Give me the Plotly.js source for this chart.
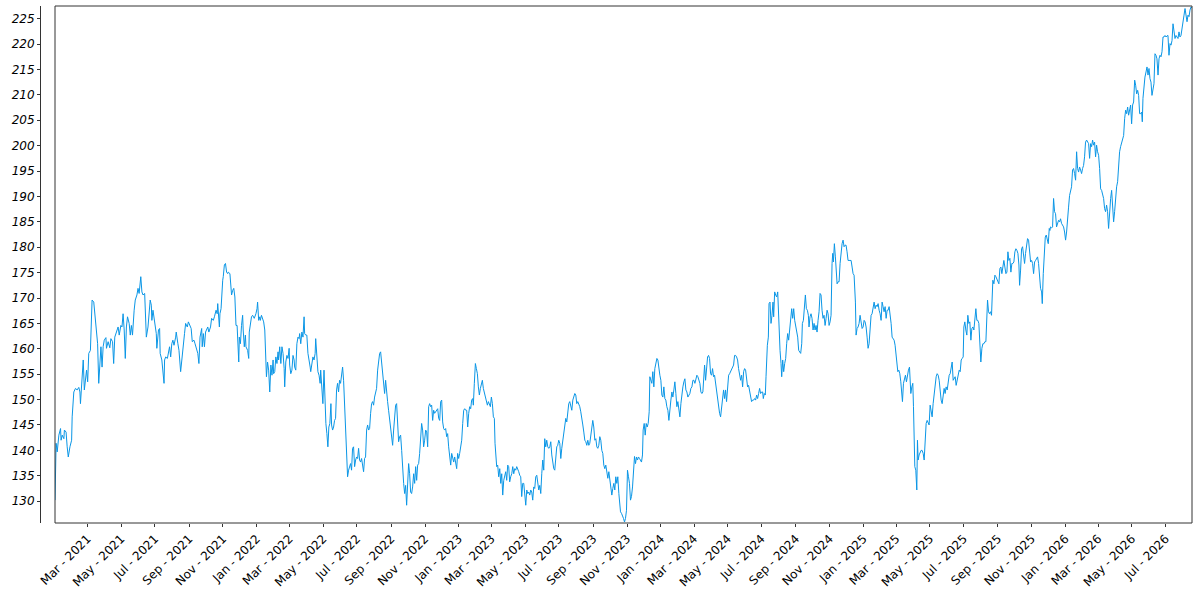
<!DOCTYPE html>
<html>
<head>
<meta charset="utf-8">
<script src="https://cdn.plot.ly/plotly-3.0.1.min.js"></script>
<style>
html,body{margin:0;padding:0;background:#fff;}
#chart{width:1200px;height:600px;}
</style>
</head>
<body>
<div id="chart"></div>
<script>
// ---- data ----
const startDate = '2021-01-01T12:00:00Z';           // day 0
const dayOffsets = [
// 2021 H1
0,2,4,7,10,11,13,16,17,20, 22,24,27,30,31,33,34,37,40,43, 45,46,48,49,51,53,55,57,59,61,
64,66,67,70,72,74,75,77,79,81, 83,85,87,89,92,93,96,99,101,104, 106,108,111,114,116,119,121,123,125,127,
129,131,134,136,138,140,143,145,148,150, 152,154,155,157,159,162,163,165,168,170, 172,174,175,177,179,181,183,184,187,189,
190,193,195,197,198,200,203,205,207,209, 211,213,215,218,219,222,224,227,229,231, 234,236,239,241,243,246,248,251,253,256,
258,260,
// late 2021 - spring 2022
262,265,266,268,270,272,274,276,278,281, 283,286,288,291,293,294,297,298,300,301, 303,304,306,308,310,312,313,316,318,319,
321,323,325,327,329,330,332,333,335,337, 339,340,342,344,345,348,350,351,353,355, 357,359,360,363,365,366,368,370,371,373,
375,377,379,380,382,384,386,388,390,392, 394,395,397,399,401,403,404,406,408,410, 412,414,415,417,419,421,423,424,426,428,
430,432,433,435,437,439,441,442,444,446, 448,450,451,453,455,457,459,461,462,464, 466,468,470,471,473,475,477,479,480,482,
484,486,488,
// 2022 H2 - early 2023
489.4,491.2,493,494.8,496.6,498.5,499.7,501.5,503.3,505.1, 506.9,508.7,510.5,512.3,514.1,515.9,517.7,519.6,521.4,523.2,
525,526.8,528.6,530.4,532.2,534,535.8,537.6,539.4,541.3, 543.1,544.9,546.7,548.5,550.3,552.1,553.9,555.7,557.5,559.3,
561.1,563,564.8,566.6,568.4,570.2,572,573.8,575.6,577.4, 579.2,581,582.9,584.7,586.5,588.3,590.1,591.9,593.7,595.5,
597.3,599.1,600.9,602.7,604.5,606.4,608.2,610,611.8,613.6, 615.4,617.2,619,620.8,622.6,624.4,626.3,628.1,629.9,631.7,
633.5,635.3,637.1,638.9,640.7,642.5,644.3,646.1,648,649.8, 651.6,653.4,655.2,657,658.8,660.6,662.4,664.2,666,667.8,
669.7,671.5,673.3,675.1,676.9,678.7,680.5,682.3,684.1,685.9, 687.7,689.5,691.4,693.2,695,696.8,698.6,700.4,702.2,704,
705.8,707.6,709.4,711.2,713.1,714.9,716.7,718.5,720.3,722.1, 723.9,725.7,727.5,729.3,731.1,733,734.8,736.6,738.4,740.2,
742,743.8,745.6,747.4,749.2,751,752.8,754.6,
// 2023
755.8,757.6,759.5,761.3,763.1,764.9,766.7,768.5,770.3,772.1, 773.9,775.7,777.5,779.3,781.2,783,784.8,786.6,788.4,790.2,
792,793.8,795,796.2,798,799.8,801.6,803.5,805.3,807.1, 808.9,810.7,812.5,814.3,816.1,817.9,819.7,821.5,823.3,825.2,
827,828.8,830.6,832.4,834.2,836,837.8,839.6,841.4,843.2, 845,846.9,848.7,850.5,852.3,854.1,855.9,857.7,859.5,861.3,
863.1,864.9,866.7,868.6,870.4,872.2,874,875.8,877.6,879.4, 881.2,883,884.8,886.6,888.4,890.3,892.1,893.9,895.7,897.5,
899.3,901.1,902.9,904.7,906.5,908.3,910.1,912,913.8,915.6, 917.4,919.2,921,922.8,924.6,926.4,928.2,930,931.9,933.7,
935.5,937.3,939.1,940.9,942.7,944.5,946.3,948.1,949.9,951.7, 953.6,955.4,957.2,959,960.8,962.6,964.4,966.2,968,969.8,
971.6,973.4,975.3,977.1,978.9,980.7,982.5,984.3,986.1,987.9, 989.7,991.5,993.3,995.1,997,998.8,1000.6,1002.4,1004.2,1006,
1007.8,1009.6,1011.4,1013.2,1015,1016.8,1018.7,1019.9,
// late 2023 - mid 2024
1021.7,1023.5,1025.3,1027.1,1028.9,1030.7,1032.5,1034.3,1036.1,1037.9, 1039.7,1041.5,1043.4,1045.2,1047,1048.8,1050.6,1052.4,1054.2,1056,
1057.8,1059.6,1061.4,1062.6,1064.5,1066.3,1068.1,1069.9,1071.7,1073.5, 1074.7,1076.5,1078.3,1080.1,1081.9,1083.7,1085.5,1087.4,1089.2,1091,
1092.8,1094.6,1096.4,1098.2,1100,1101.8,1103.6,1105.4,1107.3,1109.1, 1110.9,1112.7,1114.5,1116.3,1118.1,1119.9,1121.7,1123.5,1125.3,1127.1,
1129,1130.8,1132.6,1134.4,1136.2,1138,1139.8,1141.6,1143.4,1145.2, 1147,1148.8,1150.7,1152.5,1154.3,1156.1,1157.9,1159.7,1161.5,1163.3,
1165.1,1166.9,1168.7,1170.5,1172.3,1173.6,1175.4,1177.2,1179,1180.8, 1182.6,1184.4,1186.2,1188,1189.8,1191.6,1193.4,1195.3,1197.1,1198.9,
1200.7,1202.5,1204.3,1206.1,1207.9,1209.7,1211.5,1213.3,1215.1,1217, 1218.8,1220.6,1222.4,1224.2,1226,1227.8,1229.6,1231.4,1233.2,1235,
1236.8,1238.7,1240.5,1242.3,1244.1,1245.9,1247.7,1249.5,1251.3,1253.1, 1254.9,1256.7,1258.5,1260.4,1262.2,1264,1265.8,1267.6,1269.4,1271.2,
1273,1274.8,1276.6,
// mid 2024 - spring 2025
1278.5,1279.7,1281.5,1283.3,1284.6,1285.8,1287,1288.8,1290,1291.8, 1293.6,1295.4,1297.2,1298.4,1300.2,1302,1303.8,1305.7,1306.9,1308.1,
1309.9,1311.7,1312.9,1314.7,1316.5,1318.3,1320.1,1321.9,1323.7,1325.5, 1327.4,1329.2,1331,1332.8,1334.6,1336.4,1338.2,1340,1341.8,1343.6,
1345.4,1347.2,1349.1,1350.3,1352.1,1353.9,1355.7,1357.5,1359.3,1361.1, 1362.3,1364.1,1365.9,1367.7,1369.6,1371.4,1373.2,1375,1376.8,1378.6,
1380.4,1382.2,1384,1385.8,1387.6,1389.4,1391.3,1393.1,1394.9,1396.7, 1398.5,1400.3,1402.1,1403.9,1405.1,1406.3,1408.1,1409.9,1411.7,1413,
1414.8,1416.6,1418.4,1420.2,1422,1423.8,1425.6,1427.4,1429.2,1431, 1432.8,1434.6,1436.5,1438.3,1440.1,1441.9,1443.7,1444.9,1446.1,1447.3,
1449.1,1450.9,1452.7,1454.5,1456.4,1458.2,1460,1461.8,1463.6,1465.4, 1467.2,1469,1470.8,1472.6,1474.4,1476.2,1478.1,1479.9,1481.7,1483.5,
1485.3,1487.1,1488.9,1490.7,1492.5,1494.3,1496.1,1497.9,1499.8,1501.6, 1503.4,1505.2,1507,1508.8,1510.6,1512.4,1514.2,1516,1517.8,1519.6,
1521.5,1522.7,1524.5,1526.3,1528.1,1529.9,1531.1,1532.9,1534.7,1536.5, 1538.3,1540.1,1541.9,1543.8,
// spring 2025 - end 2025
1544.3,1546.2,1548,1549.8,1551,1552.2,1553.4,1555.2,1557,1558.2, 1559.4,1561.2,1563,1564.8,1566.6,1568.5,1570.3,1572.1,1573.9,1575.7,
1577.5,1579.3,1581.1,1582.9,1584.7,1586.5,1588.3,1590.2,1592,1593.8, 1595.6,1597.4,1599.2,1601,1602.8,1604.6,1606.4,1608.2,1610,1611.9,
1613.7,1615.5,1617.3,1619.1,1620.9,1622.7,1624.5,1626.3,1628.1,1629.9, 1631.7,1633.6,1635.4,1637.2,1639,1640.8,1642,1643.8,1645.6,1647.4,
1649.2,1651,1652.8,1654.7,1656.5,1658.3,1660.1,1661.9,1663.7,1665.5, 1667.3,1669.1,1670.9,1672.7,1674.6,1676.4,1678.2,1680,1681.8,1683.6,
1684.8,1686.6,1688.4,1690.2,1692,1693.2,1694.4,1696.3,1698.1,1699.9, 1701.7,1703.5,1705.3,1707.1,1708.9,1710.7,1712.5,1714.3,1716.1,1718,
1719.8,1721.6,1723.4,1725.2,1727,1728.8,1730.6,1732.4,1734.2,1736, 1737.8,1739.7,1741.5,1742.7,1744.5,1746.3,1748.1,1749.9,1751.7,1753.5,
1755.3,1757.1,1758.9,1760.7,1762.6,1764.4,1766.2,1768,1769.8,1771.6, 1773.4,1775.2,1777,1778.8,1780.6,1782.5,1783.7,1785.5,1787.3,1789.1,
1790.9,1792.7,1794.5,1796.3,1797.5,
// 2026
1798.6,1800.5,1802.3,1804.1,1805.9,1807.7,1809.5,1811.3,1813.1,1814.9, 1816.7,1818.5,1820.3,1822.2,1824,1825.8,1827.6,1829.4,1831.2,1833,
1834.8,1836.6,1838.4,1840.2,1842.1,1843.9,1845.7,1847.5,1849.3,1851.1, 1852.9,1854.7,1856.5,1858.3,1860.1,1861.9,1863.8,1865.6,1867.4,1869.2,
1871,1872.8,1874.6,1876.4,1878.2,1880,1881.8,1883.6,1885.5,1887.3, 1889.1,1890.9,1892.7,1894.5,1896.3,1898.1,1899.9,1901.7,1903.5,1905.3,
1907.2,1909,1910.8,1912.6,1914.4,1916.2,1918,1919.8,1921.6,1923.4, 1925.2,1927,1928.9,1930.7,1932.5,1934.3,1936.1,1937.9,1939.7,1941.5,
1943.3,1945.1,1946.9,1948.7,1950.6,1952.4,1954.2,1956,1957.8,1959.6, 1961.4,1963.2,1964.4,1965.6,1967.4,1969.2,1971.1,1972.9,1974.7,1976.5,
1978.3,1980.1,1981.9,1983.7,1985.5,1987.3,1989.1,1990.9,1992.8,1994.6, 1996.4,1998.2,2000,2001.8,2003.6,2005.4,2007.2,2009,2010.8,2012.6,
2014.5,2016.3,2018.1,2019.9,2021.7,2023.5,2025.3,2027.1,2028.9,2030.7, 2032.5,2034.3,2036.2,2038,2039.8,2041.6,2043.4,2045.2,2047,2048.8,
2050.6,2052.4,2054.2
];
const closeValues = [
// 2021 H1
130.2,141.4,139.7,143.0,144.3,142.0,143.0,142.3,144.0,143.6, 140.7,138.7,140.7,142.0,146.6,149.2,151.5,152.2,151.9,152.4, 151.5,149.2,152.8,153.8,157.8,151.9,154.8,155.8,153.5,159.1,
159.7,165.6,169.6,169.2,166.9,164.3,164.3,161.0,153.2,157.8, 160.4,156.4,160.4,161.7,162.2,160.1,161.4,160.2,162.0,161.4, 157.1,162.3,163.3,164.3,162.7,164.6,164.3,166.9,163.7,158.1,
164.3,166.3,165.0,162.7,164.6,162.7,167.6,169.6,170.6,171.9, 170.9,172.5,174.2,171.2,170.6,170.9,168.3,162.3,164.3,166.9, 169.6,168.6,165.6,167.6,166.0,164.6,163.0,160.1,163.7,164.0,
159.1,157.8,155.8,153.2,157.8,158.4,158.1,159.7,160.4,158.4, 161.0,161.7,160.7,162.3,163.3,161.0,159.7,155.5,158.1,159.7, 163.0,165.0,164.3,165.3,164.6,164.0,161.4,161.7,161.0,159.7,
159.1,157.1,
// late 2021 - spring 2022
162.3,164.0,160.4,163.0,160.4,163.3,163.7,164.3,163.3,164.3, 166.0,165.6,166.3,167.6,166.9,168.9,164.3,166.9,167.9,171.2, 173.5,174.2,176.5,176.8,175.1,174.8,175.1,174.8,172.8,170.6,
171.5,171.9,170.2,164.6,164.6,162.0,157.4,162.3,161.0,164.6, 166.6,163.7,160.4,162.7,160.4,159.7,158.1,163.3,165.3,166.3, 166.6,166.3,166.0,166.9,167.9,169.2,165.6,166.3,165.6,166.6,
166.0,165.3,163.7,161.0,154.5,157.4,155.8,151.5,156.8,154.8, 157.8,155.1,155.5,158.4,157.1,159.4,157.8,160.4,157.1,160.4, 159.1,156.1,152.5,157.4,158.7,158.1,160.1,156.8,155.1,155.8,
158.7,157.8,156.4,155.8,161.0,162.3,162.0,163.0,161.0,163.3, 162.3,166.3,163.0,162.7,162.7,159.1,157.1,156.4,155.5,157.1, 158.4,157.8,159.1,162.0,158.1,155.5,154.8,153.2,155.8,152.2,
149.2,155.8,148.6,
// 2022 H2 - early 2023
145.3,143.3,140.7,144.6,145.3,149.2,145.0,144.0,144.6,145.9, 146.3,151.9,153.2,151.5,153.8,153.2,155.1,156.4,153.8,149.2,
144.0,140.0,134.8,136.1,136.8,137.4,136.1,140.4,140.7,136.8, 138.1,138.7,138.4,140.4,138.1,137.7,138.4,137.4,135.8,138.4,
138.7,144.0,145.0,144.0,144.3,147.3,149.2,149.6,148.9,150.5, 151.2,152.2,155.8,157.8,159.1,159.4,157.1,154.5,152.2,151.2,
153.8,150.5,149.6,147.9,145.9,144.0,142.0,141.0,144.0,147.3, 148.9,149.2,144.0,141.7,142.7,143.0,140.0,136.1,133.5,131.5,
133.1,129.2,134.1,137.4,135.4,131.8,131.5,132.8,135.4,133.5, 136.8,134.1,137.1,137.4,139.4,142.0,145.3,144.0,140.7,142.0,
144.0,143.6,140.7,148.6,149.2,148.6,148.9,145.9,147.9,147.3, 147.6,147.9,148.2,146.3,145.9,149.6,149.9,145.6,144.3,144.0,
144.3,142.7,143.3,140.7,138.1,137.1,139.4,138.4,137.7,138.7, 137.7,136.4,139.4,138.4,139.4,140.7,142.0,145.3,147.9,148.2,
147.9,147.9,144.6,147.3,148.6,148.2,149.9,150.2,
// 2023
148.9,153.2,157.1,156.1,155.1,152.5,150.9,152.2,152.8,153.8, 152.2,151.2,150.5,149.2,148.9,149.6,148.9,148.6,150.5,149.2,
146.6,146.3,141.4,138.1,136.8,137.1,134.8,136.4,133.5,135.4, 131.2,134.1,134.8,135.8,134.1,137.1,136.8,133.8,134.8,135.4,
136.8,135.4,136.4,136.1,136.8,136.4,135.8,135.1,134.8,130.9, 133.5,133.5,130.9,129.2,132.2,131.5,131.8,131.2,132.2,131.8,
130.2,132.8,132.5,134.8,135.1,132.8,132.2,133.1,131.5,135.4, 138.1,136.1,142.3,140.7,142.0,140.7,140.4,140.7,141.7,139.1,
137.7,136.4,136.1,138.7,140.7,141.0,142.0,141.4,138.4,140.4, 142.0,144.0,145.0,146.3,145.6,148.2,149.2,149.6,148.6,147.9,
149.9,150.5,151.2,150.9,149.2,149.6,149.2,148.6,147.6,146.6, 145.0,143.6,142.0,141.7,141.0,142.0,141.0,141.4,142.7,144.3,
145.9,144.6,142.0,142.3,140.7,140.4,141.0,142.7,142.0,140.0, 139.4,137.1,136.4,137.1,135.8,134.5,135.8,134.1,132.8,131.2,
132.5,133.5,132.2,134.8,133.5,134.8,131.5,128.9,
// late 2023 - mid 2024
127.9,127.6,127.2,126.6,125.9,126.6,128.2,136.1,134.8,133.5, 130.2,130.9,132.8,136.8,138.8,137.4,138.7,138.1,138.7,138.4,
138.1,137.7,139.1,144.0,145.3,143.0,145.3,144.6,145.3,147.6, 154.5,153.8,153.2,155.5,152.5,156.1,157.1,158.1,157.8,155.5,
154.8,153.8,150.9,150.5,152.5,150.2,149.9,148.6,147.9,145.9, 148.6,149.9,151.5,150.5,151.9,153.5,151.2,148.6,149.6,147.6,
146.6,149.2,151.2,152.5,153.5,154.1,151.9,151.5,150.5,150.9, 151.2,152.2,152.5,153.8,153.8,153.2,154.5,154.8,154.5,153.8,
153.2,151.5,151.2,151.5,155.8,156.8,153.8,156.4,158.4,158.7, 158.1,155.1,154.8,156.1,154.5,154.8,153.2,151.5,150.2,149.2,
147.3,146.6,148.6,150.9,151.9,150.2,151.9,149.6,152.5,154.8, 155.1,155.5,155.8,156.4,156.8,158.7,158.7,158.4,157.8,156.1,
155.1,153.8,154.8,152.5,155.5,156.1,155.8,153.5,152.5,152.8, 151.9,150.5,149.6,149.9,149.9,150.2,149.9,150.9,150.2,151.2,
152.2,151.2,151.5,
// mid 2024 - spring 2025
151.5,150.2,151.2,150.9,154.5,158.4,160.7,162.3,168.9,169.2, 165.0,166.6,169.2,166.3,171.2,170.6,170.2,171.2,166.9,162.3,
159.7,157.1,154.5,157.8,155.5,157.1,158.1,161.0,163.0,161.7, 163.7,166.6,167.9,166.0,167.9,165.6,164.3,163.7,162.3,159.7,
159.4,159.1,161.0,165.0,165.6,167.6,170.6,167.9,167.6,166.6, 164.3,166.3,166.9,166.0,163.7,165.0,163.7,164.6,163.3,165.6,
167.3,170.9,170.6,167.6,166.0,166.6,164.6,166.0,167.6,166.9, 164.6,165.3,166.6,176.8,178.8,177.1,180.7,178.1,175.1,172.8,
173.2,173.2,176.8,179.4,180.7,181.4,180.1,180.4,180.4,179.1, 177.4,177.4,177.4,177.4,176.1,174.8,174.5,172.8,169.2,162.7,
164.0,164.3,165.0,166.6,164.6,164.0,164.3,165.6,165.3,164.3, 162.3,160.1,161.0,164.6,166.6,166.9,168.3,169.2,167.9,168.6,
168.3,168.9,167.6,166.9,165.6,169.2,168.3,167.3,168.3,166.0, 167.6,167.6,168.3,166.9,165.0,162.3,162.0,161.7,160.7,159.1,
157.1,155.5,155.8,155.1,153.5,151.2,149.6,153.2,153.8,154.8, 153.5,155.1,155.8,156.4,
// spring 2025 - end 2025
154.5,151.2,152.5,153.2,148.6,142.7,136.8,136.1,132.2,142.0, 138.1,139.1,139.7,140.0,140.0,139.4,138.1,142.0,145.3,145.9,
145.3,145.0,148.9,147.9,146.6,149.2,151.2,153.2,154.5,155.1, 154.8,153.8,151.2,149.9,149.2,150.5,152.2,151.2,152.5,151.9,
153.2,154.8,155.1,156.4,157.4,153.8,154.1,154.5,152.8,153.8, 154.8,155.8,155.5,157.8,158.1,158.4,164.3,165.3,163.7,162.7,
166.6,165.0,165.3,161.7,164.0,164.3,163.7,165.6,167.9,165.6, 165.6,165.0,161.7,157.4,160.1,161.0,161.0,161.4,161.4,166.0,
169.6,167.3,166.9,167.3,166.6,170.2,173.5,172.8,174.5,174.2, 173.8,173.5,172.8,175.8,176.1,174.8,176.1,177.4,176.1,174.8,
175.1,179.1,177.4,177.8,175.1,176.8,176.8,177.1,179.1,179.7, 179.4,178.8,176.5,172.5,175.5,179.7,180.1,178.1,176.8,178.8,
180.1,181.7,181.4,179.4,177.1,177.4,176.8,174.8,177.1,177.4, 177.8,178.1,176.8,174.2,171.9,171.2,168.9,174.8,178.8,182.0,
182.4,181.7,180.7,183.7,183.3,
// 2026
184.0,183.8,184.0,189.6,187.0,186.6,184.0,184.7,185.3,185.0, 185.6,184.7,184.3,184.0,183.0,181.4,183.0,186.3,187.9,190.2,
191.2,191.9,195.2,195.5,194.5,193.2,198.8,195.5,194.8,195.8, 195.2,194.5,195.5,196.1,197.8,200.7,201.1,200.7,200.4,197.5,
200.4,199.8,201.1,200.1,200.7,197.8,200.1,198.8,198.1,195.5, 191.5,191.2,190.6,189.6,187.6,187.0,188.3,187.0,183.7,187.3,
189.6,191.2,187.6,185.0,187.0,190.2,191.9,192.9,196.1,198.8, 199.8,200.4,201.1,202.0,205.3,207.0,206.3,207.6,206.0,207.3,
208.0,204.3,208.0,208.6,212.9,211.9,210.2,210.9,209.9,206.3, 206.3,206.6,204.7,209.3,212.2,213.5,214.5,215.5,213.9,215.2,
213.2,212.5,209.9,210.9,212.2,218.1,217.8,217.1,213.9,217.1, 217.8,217.5,218.5,221.4,221.4,221.7,221.4,221.6,221.7,217.8,
220.1,219.8,220.7,224.0,222.1,221.1,221.7,221.4,221.1,222.4, 221.4,221.7,223.4,225.0,225.7,227.0,225.0,224.4,225.7,225.4,
226.7,227.3,227.1
];
const yTickValues = [130,135,140,145,150,155,160,165,170,175,180,185,190,195,200,205,210,215,220,225];
const xTickStart = '2021-03-01';
const yRange = [125.7, 227.5];

// ---- build ----
const t0 = Date.parse(startDate);
const dates = dayOffsets.map(d => new Date(t0 + d * 86400000).toISOString().slice(0, 19).replace('T', ' '));

const FONT = 'DejaVu Sans, Verdana, sans-serif';
const x0 = 15 / 1152;

const trace = {
  type: 'scatter',
  mode: 'lines',
  x: dates,
  y: closeValues,
  line: {color: '#0a96e6', width: 1},
  hoverinfo: 'skip'
};

const layout = {
  width: 1200,
  height: 600,
  margin: {l: 40, r: 8, t: 6, b: 77, pad: 0},
  paper_bgcolor: '#ffffff',
  plot_bgcolor: '#ffffff',
  showlegend: false,
  xaxis: {
    type: 'date',
    domain: [x0, 1],
    range: [dates[0], dates[dates.length - 1]],
    tick0: xTickStart,
    dtick: 'M2',
    tickformat: '%b - %Y',
    tickangle: -45,
    ticks: 'outside',
    ticklen: 3,
    tickwidth: 1,
    tickcolor: '#333',
    showgrid: false,
    zeroline: false,
    showline: false,
    tickfont: {family: FONT, size: 12, color: '#000'}
  },
  yaxis: {
    range: yRange,
    anchor: 'free',
    position: 0,
    tickvals: yTickValues,
    ticks: 'outside',
    ticklen: 3,
    tickwidth: 1,
    tickcolor: '#333',
    showline: true,
    linecolor: '#333',
    linewidth: 1,
    showgrid: false,
    zeroline: false,
    tickfont: {family: FONT, size: 12, color: '#000', style: 'italic'}
  },
  shapes: [{
    type: 'rect', xref: 'paper', yref: 'paper',
    x0: x0, x1: 1, y0: 0, y1: 1,
    line: {color: '#333', width: 1}, fillcolor: 'rgba(0,0,0,0)', layer: 'above'
  }]
};

Plotly.newPlot('chart', [trace], layout, {displayModeBar: false, staticPlot: true});
</script>
</body>
</html>
